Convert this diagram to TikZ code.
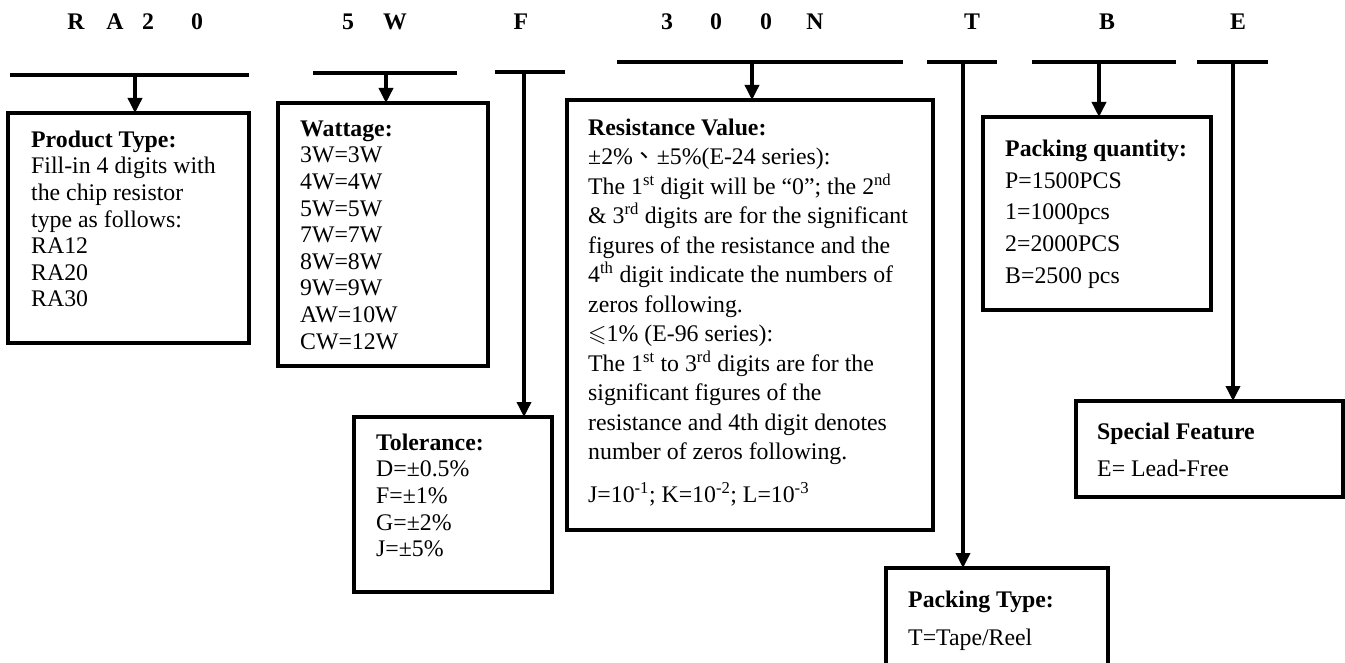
\documentclass[tikz,border=0pt]{standalone}
\usepackage{fontspec}
\usepackage{amssymb}
\usepackage{tikz}
\usetikzlibrary{arrows.meta}
\setmainfont{Liberation Serif}
\newfontfamily\cjk{Noto Sans CJK TC}

\begin{document}
\begin{tikzpicture}[x=1pt,y=-1pt,
  code/.style={font=\fontsize{23.8}{26}\selectfont\bfseries,anchor=base,inner sep=0pt},
  box/.style={draw,line width=4pt,anchor=north west,inner sep=0pt,outer sep=0pt},
  txt/.style={anchor=north west,inner sep=0pt,align=left,font=\fontsize{23.8}{26.6}\selectfont},
  bar/.style={line width=4pt},
  feed/.style={line width=3.5pt,-{Triangle[length=15pt,width=14pt]}}]%
\useasboundingbox (0,0) rectangle (1345,663);%
% part number letters
\node [code] (c1) at (76,30) {R};%
\node [code] (c2) at (115,30) {A};%
\node [code] (c3) at (148,30) {2};%
\node [code] (c4) at (197,30) {0};%
\node [code] (c5) at (348,30) {5};%
\node [code] (c6) at (395,30) {W};%
\node [code] (c7) at (521,30) {F};%
\node [code] (c8) at (667,30) {3};%
\node [code] (c9) at (716,30) {0};%
\node [code] (c10) at (766,30) {0};%
\node [code] (c11) at (815,30) {N};%
\node [code] (c12) at (972,30) {T};%
\node [code] (c13) at (1107,30) {B};%
\node [code] (c14) at (1238,30) {E};%
% boxes
\node [box,minimum width=241pt,minimum height=230pt] (type) at (8,113) {};%
\node [box,minimum width=210pt,minimum height=263pt] (watt) at (278,103) {};%
\node [box,minimum width=198pt,minimum height=175pt] (tol) at (354,417) {};%
\node [box,minimum width=366pt,minimum height=430pt] (res) at (567,100) {};%
\node [box,minimum width=228pt,minimum height=193pt] (qty) at (983,117) {};%
\node [box,minimum width=267pt,minimum height=96pt] (feat) at (1076,401) {};%
\node [box,minimum width=222pt,minimum height=110pt] (ptype) at (886,568) {};%
% box texts
\node [txt] (typetxt) at (31,130.5) {\textbf{Product Type:}\\Fill-in 4 digits with\\the chip resistor\\type as follows:\\RA12\\RA20\\RA30};%
\node [txt] (watttxt) at (300,120.5) {\textbf{Wattage:}\\3W=3W\\4W=4W\\5W=5W\\7W=7W\\8W=8W\\9W=9W\\AW=10W\\CW=12W};%
\node [txt] (toltxt) at (376,433.5) {\textbf{Tolerance:}\\D=±0.5\%\\F=±1\%\\G=±2\%\\J=±5\%};%
\node [txt,font=\fontsize{23.8}{29.5}\selectfont] (restxt) at (588,118.5) {\textbf{Resistance Value:}\\
±2\%{\cjk 、}±5\%(E-24 series):\\
The 1\textsuperscript{st} digit will be ``0''; the 2\textsuperscript{nd}\\
\& 3\textsuperscript{rd} digits are for the significant\\
figures of the resistance and the\\
4\textsuperscript{th} digit indicate the numbers of\\
zeros following.\\
$\leqslant$1\% (E-96 series):\\
The 1\textsuperscript{st} to 3\textsuperscript{rd} digits are for the\\
significant figures of the\\
resistance and 4th digit denotes\\
number of zeros following.\\[13.5pt]
J=10\textsuperscript{-1}; K=10\textsuperscript{-2}; L=10\textsuperscript{-3}};%
\node [txt,font=\fontsize{23.8}{31.8}\selectfont] (qtytxt) at (1005,139.5) {\textbf{Packing quantity:}\\P=1500PCS\\1=1000pcs\\2=2000PCS\\B=2500 pcs};%
\node [txt,font=\fontsize{23.8}{37}\selectfont] (feattxt) at (1097,422.5) {\textbf{Special Feature}\\E= Lead-Free};%
\node [txt,font=\fontsize{23.8}{38}\selectfont] (ptypetxt) at (908,590.5) {\textbf{Packing Type:}\\T=Tape/Reel};%
% bars under the code
\coordinate (b1w) at (10,75); \coordinate (b1e) at (249,75); \coordinate (d1) at (135,75);%
\coordinate (b2w) at (313,73); \coordinate (b2e) at (457,73); \coordinate (d2) at (386,73);%
\coordinate (b3w) at (495,72); \coordinate (b3e) at (565,72); \coordinate (d3) at (524,72);%
\coordinate (b4w) at (617,62); \coordinate (b4e) at (903,62); \coordinate (d4) at (752,62);%
\coordinate (b5w) at (927,62); \coordinate (b5e) at (997,62); \coordinate (d5) at (963,62);%
\coordinate (b6w) at (1032,62); \coordinate (b6e) at (1176,62); \coordinate (d6) at (1099,62);%
\coordinate (b7w) at (1197,62); \coordinate (b7e) at (1268,62); \coordinate (d7) at (1233,62);%
\draw [bar] (b1w) -- (b1e);%
\draw [bar] (b2w) -- (b2e);%
\draw [bar] (b3w) -- (b3e);%
\draw [bar] (b4w) -- (b4e);%
\draw [bar] (b5w) -- (b5e);%
\draw [bar] (b6w) -- (b6e);%
\draw [bar] (b7w) -- (b7e);%
% arrows to the boxes
\draw [feed] (d1) -- (d1 |- type.north);%
\draw [feed] (d2) -- (d2 |- watt.north);%
\draw [feed] (d3) -- (d3 |- tol.north);%
\draw [feed] (d4) -- (d4 |- res.north);%
\draw [feed] (d5) -- (d5 |- ptype.north);%
\draw [feed] (d6) -- (d6 |- qty.north);%
\draw [feed] (d7) -- (d7 |- feat.north);%
\end{tikzpicture}
\end{document}
